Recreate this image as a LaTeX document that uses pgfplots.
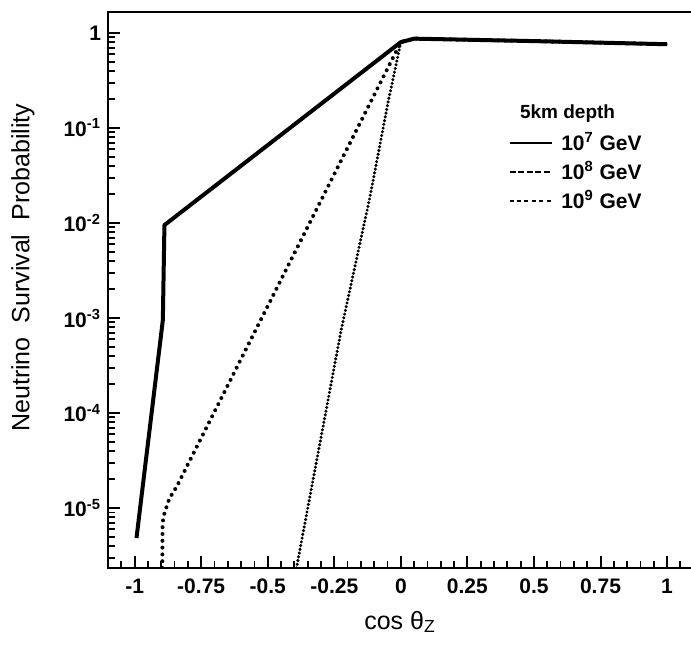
\documentclass[border=0pt]{standalone}
\usepackage{fontspec}
\setmainfont{Liberation Sans}
\usepackage{pgfplots}
\pgfplotsset{compat=1.18}
\begin{document}
\begin{tikzpicture}
\useasboundingbox (-54pt,-47.5pt) rectangle (291.5pt,284pt);
\begin{axis}[
  at={(0,0)}, anchor=south west,
  scale only axis, width=295.5pt, height=278pt,
  xmin=-1.1, xmax=1.12,
  ymode=log, ymin=2.34e-6, ymax=1.66,
  axis line style={line width=1.3pt},
  xtick pos=bottom, ytick pos=left,
  tick align=inside,
  xtick={-1,-0.75,-0.5,-0.25,0,0.25,0.5,0.75,1},
  xticklabels={-1,-0.75,-0.5,-0.25,0,0.25,0.5,0.75,1},
  ytick={1e-5,1e-4,1e-3,1e-2,1e-1,1},
  yticklabels={10\textsuperscript{-5},10\textsuperscript{-4},10\textsuperscript{-3},10\textsuperscript{-2},10\textsuperscript{-1},1},
  major tick length=6pt, minor tick length=3.5pt,
  tick style={draw=black, line width=1pt},
  ticklabel style={font=\fontsize{10.5}{12}\selectfont\bfseries},
  xticklabel style={yshift=-2pt},
  every axis x label/.style={at={(rel axis cs:0,0)}, xshift=146pt, yshift=-27pt, anchor=center, font=\fontsize{12.5}{14}\selectfont},
  every axis y label/.style={at={(rel axis cs:0,0.54)}, xshift=-42.5pt, rotate=90, anchor=center, font=\fontsize{12.5}{15}\selectfont},
  xlabel={cos θ\textsubscript{Z}},
  ylabel={Neutrino\ \ Survival\ \ Probability},
  legend style={draw=none, fill=none, at={(axis description cs:0,0.7986)}, xshift=197pt, anchor=north west,
    font=\fontsize{10.5}{12}\selectfont\bfseries, row sep=0pt},
  legend cell align=left,
  legend image code/.code={\draw[#1] (0cm,0cm) -- (0.75cm,0cm); \path (0.82cm,0cm);},
]
% tick marks (axis decoration)
\pgfplotsinvokeforeach{-1,-0.75,-0.5,-0.25,0,0.25,0.5,0.75,1}{
  \draw[line width=1pt] (axis cs:#1,2.34e-6) -- ([yshift=6pt]axis cs:#1,2.34e-6);}
\pgfplotsinvokeforeach{-1.05,-0.95,-0.9,-0.85,-0.8,-0.7,-0.65,-0.6,-0.55,-0.45,-0.4,-0.35,-0.3,-0.2,-0.15,-0.1,-0.05,0.05,0.1,0.15,0.2,0.3,0.35,0.4,0.45,0.55,0.6,0.65,0.7,0.8,0.85,0.9,0.95,1.05}{
  \draw[line width=0.9pt] (axis cs:#1,2.34e-6) -- ([yshift=3.5pt]axis cs:#1,2.34e-6);}
\pgfplotsinvokeforeach{1e-5,1e-4,1e-3,1e-2,1e-1,1}{
  \draw[line width=1pt] (axis cs:-1.1,#1) -- ([xshift=6pt]axis cs:-1.1,#1);}
\pgfplotsinvokeforeach{3e-6,4e-6,5e-6,6e-6,7e-6,8e-6,9e-6,
    2e-5,3e-5,4e-5,5e-5,6e-5,7e-5,8e-5,9e-5,
    2e-4,3e-4,4e-4,5e-4,6e-4,7e-4,8e-4,9e-4,
    2e-3,3e-3,4e-3,5e-3,6e-3,7e-3,8e-3,9e-3,
    2e-2,3e-2,4e-2,5e-2,6e-2,7e-2,8e-2,9e-2,
    2e-1,3e-1,4e-1,5e-1,6e-1,7e-1,8e-1,9e-1}{
  \draw[line width=0.9pt] (axis cs:-1.1,#1) -- ([xshift=3.5pt]axis cs:-1.1,#1);}
% 10^7 GeV
\addplot[black, line width=2pt, line join=round, forget plot] coordinates {
(-0.993,4.83e-6) (-0.894,9.5e-4) (-0.888,9.5e-3) (0,0.80) (0.05,0.87) (0.5,0.82) (1.0,0.76)};
% 10^8 GeV
\addplot[black, line width=2pt, line cap=round, dash pattern=on 0pt off 3.4pt, forget plot] coordinates {
(-0.896,2.34e-6) (-0.895,7e-6) (-0.888,8.85e-6) (-0.869,1.27e-5) (-0.843,1.66e-5) (0,0.80) (0.05,0.87) (0.5,0.82) (1.0,0.76)};
% 10^9 GeV
\addplot[black, line width=1.7pt, line cap=round, dash pattern=on 0pt off 1.9pt, forget plot] coordinates {
(-0.392,2.34e-6) (-0.224,7.5e-4) (-0.116,1.88e-2) (-0.0485,0.183) (0,0.80) (0.05,0.87) (0.5,0.82) (1.0,0.76)};
\addlegendimage{black, line width=1.1pt}
\addlegendentry{10\textsuperscript{7} GeV}
\addlegendimage{black, line width=1.1pt, dash pattern=on 3pt off 1.3pt}
\addlegendentry{10\textsuperscript{8} GeV}
\addlegendimage{black, line width=1.1pt, dash pattern=on 2pt off 1.7pt}
\addlegendentry{10\textsuperscript{9} GeV}
\node[anchor=west, font=\fontsize{9.5}{11}\selectfont\bfseries] at (axis description cs:0,0.818) [xshift=202.5pt] {5km depth};
\end{axis}
\end{tikzpicture}
\end{document}
